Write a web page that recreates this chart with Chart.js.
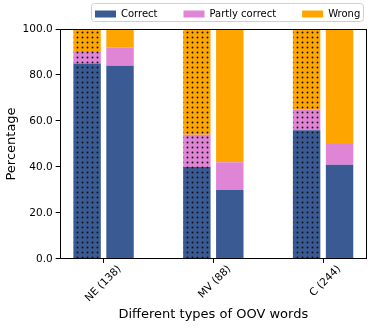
<!DOCTYPE html>
<html>
<head>
<meta charset="utf-8">
<script src="https://cdn.jsdelivr.net/npm/chart.js@4"></script>
<style>
  html, body { margin: 0; padding: 0; background: #fff; }
  #wrap { width: 374px; height: 329px; }
</style>
</head>
<body>
<div id="wrap"><canvas id="oovChart"></canvas></div>
<script>
// data
const groups = ['NE (138)', 'MV (88)', 'C (244)'];
const seriesNames = ['Correct', 'Partly correct', 'Wrong'];
const dottedCorrect = [85, 40, 56];
const dottedPartly = [5, 14, 9];
const dottedWrong = [10, 46, 35];
const plainCorrect = [84, 30, 41];
const plainPartly = [8, 12, 9];
const plainWrong = [8, 58, 50];
const yTicks = [0, 20, 40, 60, 80, 100];

const colors = ['#3a5a94', '#e084d6', '#ffa500'];
const font = 'DejaVu Sans';

function dotPattern(color) {
    const c = document.createElement('canvas');
    c.width = 5; c.height = 5;
    const g = c.getContext('2d');
    g.fillStyle = color;
    g.fillRect(0, 0, 5, 5);
    g.fillStyle = '#111';
    g.beginPath();
    g.arc(2.5, 2.5, 0.95, 0, Math.PI * 2);
    g.fill();
    return g.createPattern(c, 'repeat');
}

function pts(values) {
    return values.map((v, i) => ({ x: i, y: v }));
}

const dotted = [dottedCorrect, dottedPartly, dottedWrong];
const plain = [plainCorrect, plainPartly, plainWrong];
const datasets = [];
dotted.forEach((vals, i) => {
    datasets.push({
        label: seriesNames[i], data: pts(vals), stack: 'dotted',
        backgroundColor: dotPattern(colors[i]), borderWidth: 0
    });
});
plain.forEach((vals, i) => {
    datasets.push({
        label: seriesNames[i], data: pts(vals), stack: 'plain',
        backgroundColor: colors[i], borderWidth: 0
    });
});

// legend sits tight above the plot, like matplotlib's
const legendPad = 26;
const itemTop = 9;
const plotTop = 29;
const layoutTop = itemTop - legendPad;
const legendHeight = plotTop - layoutTop;
const legendStartX = 95;
const framePlugin = {
    id: 'frame',
    afterInit(chart) {
        const fit = chart.legend.fit;
        chart.legend.fit = function() {
            fit.call(this);
            this.height = legendHeight;
        };
    },
    afterLayout(chart) {
        const lg = chart.legend;
        if (lg.lineWidths) lg.right = legendStartX + lg.lineWidths[0];
    },
    afterDraw(chart) {
        const ctx = chart.ctx;
        const a = chart.chartArea;
        ctx.save();
        ctx.strokeStyle = '#000';
        ctx.lineWidth = 1;
        ctx.strokeRect(Math.round(a.left) + 0.5, Math.round(a.top) + 0.5,
            Math.round(a.right - a.left) - 1, Math.round(a.bottom - a.top) - 1);
        const lg = chart.legend;
        if (lg.lineWidths) {
            const l = legendStartX - 4;
            const r = legendStartX + lg.lineWidths[0] - legendPad + 3;
            const t = lg.top + legendPad - 6;
            const bt = lg.top + legendPad + 12;
            ctx.strokeStyle = '#d0d0d0';
            ctx.beginPath();
            ctx.roundRect(Math.round(l) + 0.5, Math.round(t) + 0.5, Math.round(r - l), Math.round(bt - t), 3);
            ctx.stroke();
        }
        ctx.restore();
    }
};

new Chart(document.getElementById('oovChart'), {
    type: 'bar',
    data: { datasets: datasets },
    plugins: [framePlugin],
    options: {
        responsive: true,
        maintainAspectRatio: false,
        animation: false,
        categoryPercentage: 0.6,
        barPercentage: 0.833,
        layout: { padding: { top: layoutTop, right: 7, left: 4, bottom: 0 } },
        plugins: {
            legend: {
                position: 'top',
                align: 'end',
                labels: {
                    filter: (item) => item.datasetIndex >= 3,
                    boxWidth: 21,
                    boxHeight: 7,
                    padding: legendPad,
                    color: '#000',
                    font: { family: font, size: 10 }
                }
            },
            tooltip: { enabled: false }
        },
        scales: {
            x: {
                type: 'linear',
                min: -0.4,
                max: 2.4,
                offset: false,
                stacked: true,
                afterBuildTicks: (axis) => { axis.ticks = groups.map((g, i) => ({ value: i })); },
                ticks: {
                    callback: (v) => groups[v],
                    minRotation: 45,
                    maxRotation: 45,
                    labelOffset: 16,
                    padding: 0,
                    color: '#000',
                    font: { family: font, size: 10.5 }
                },
                grid: { display: true, offset: false, drawOnChartArea: false, color: '#000', tickLength: 4 },
                border: { display: false },
                title: {
                    display: true,
                    text: 'Different types of OOV words',
                    color: '#000',
                    font: { family: font, size: 13 },
                    padding: { top: 2, bottom: 7 }
                }
            },
            y: {
                min: 0,
                max: 100,
                stacked: true,
                afterBuildTicks: (axis) => { axis.ticks = yTicks.map(v => ({ value: v })); },
                ticks: {
                    callback: (v) => v.toFixed(1),
                    padding: 3,
                    color: '#000',
                    font: { family: font, size: 10.5 }
                },
                grid: { display: true, drawOnChartArea: false, color: '#000', tickLength: 4 },
                border: { display: false },
                title: {
                    display: true,
                    text: 'Percentage',
                    color: '#000',
                    font: { family: font, size: 13 },
                    padding: { top: 0, bottom: 0 }
                }
            }
        }
    }
});
</script>
</body>
</html>
